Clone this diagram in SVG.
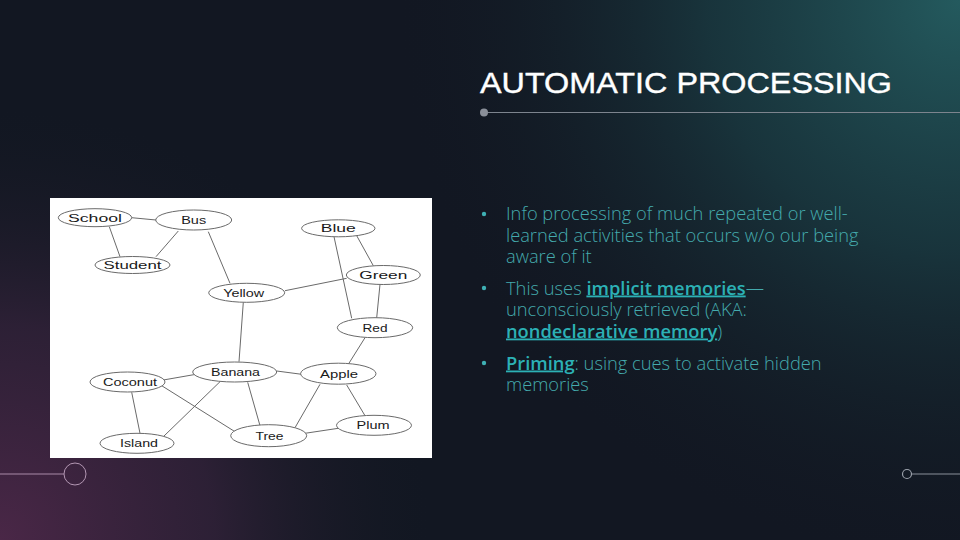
<svg xmlns="http://www.w3.org/2000/svg" width="960" height="540" viewBox="0 0 960 540">
<defs>
<radialGradient id="gTeal" cx="960" cy="0" r="560" gradientUnits="userSpaceOnUse">
<stop offset="0" stop-color="#245a5e"/>
<stop offset="0.45" stop-color="#1a3b42" stop-opacity="0.8"/>
<stop offset="1" stop-color="#131a24" stop-opacity="0"/>
</radialGradient>
<radialGradient id="gPurple" cx="0" cy="540" r="430" gradientUnits="userSpaceOnUse">
<stop offset="0" stop-color="#4a2747"/>
<stop offset="0.5" stop-color="#33223a" stop-opacity="0.8"/>
<stop offset="1" stop-color="#161a24" stop-opacity="0"/>
</radialGradient>
<style>
.nd ellipse{fill:#fff;stroke:#6a6a6a;stroke-width:1}
.nd text{font-family:"Liberation Sans",Arial,sans-serif;font-size:11.5px;fill:#1a1a1a;text-anchor:middle}
#edges line{stroke:#6a6a6a;stroke-width:1}
.b{font-family:"Open Sans","Noto Sans",sans-serif;font-size:18.3px;fill:#44aaad;font-weight:300}
.k{font-weight:600;fill:#2cb1b5;text-decoration:underline}
.dot{fill:#3fb0b4}
</style>
</defs>
<rect width="960" height="540" fill="#121722"/>
<rect width="960" height="540" fill="url(#gTeal)"/>
<rect width="960" height="540" fill="url(#gPurple)"/>

<text x="480" y="93" font-family="Liberation Sans,Arial,sans-serif" font-size="30" fill="#fff" stroke="#fff" stroke-width="0.4" textLength="412" lengthAdjust="spacingAndGlyphs">AUTOMATIC PROCESSING</text>
<line x1="484" y1="112.5" x2="960" y2="112.5" stroke="#7d848e" stroke-width="1.2"/>
<circle cx="484" cy="112.5" r="4" fill="#8a8f99"/>

<line x1="0" y1="474" x2="64" y2="474" stroke="#a98aa8" stroke-width="1"/>
<circle cx="75" cy="474" r="11" fill="none" stroke="#b397b3" stroke-width="1"/>
<line x1="912" y1="474" x2="960" y2="474" stroke="#8a8f99" stroke-width="1.2"/>
<circle cx="907" cy="474" r="4.5" fill="none" stroke="#9aa0aa" stroke-width="1.2"/>

<rect x="50" y="198" width="382" height="260" fill="#fff"/>

<g id="edges">
<line x1="131.7" y1="217.7" x2="156" y2="220"/>
<line x1="109.3" y1="226.7" x2="120" y2="256.7"/>
<line x1="178.3" y1="231" x2="156" y2="256.7"/>
<line x1="208.3" y1="231.7" x2="230" y2="283.3"/>
<line x1="334" y1="236.7" x2="351.7" y2="318.3"/>
<line x1="356.7" y1="235.7" x2="373.3" y2="265.7"/>
<line x1="285" y1="290.7" x2="346.7" y2="278.3"/>
<line x1="380" y1="284.3" x2="376.7" y2="317.7"/>
<line x1="243.3" y1="302.3" x2="239" y2="361.7"/>
<line x1="365" y1="337.7" x2="348.3" y2="364.3"/>
<line x1="163.3" y1="380" x2="201.7" y2="373.3"/>
<line x1="276.7" y1="371" x2="301.7" y2="374.3"/>
<line x1="247.7" y1="382.3" x2="260" y2="425.7"/>
<line x1="220" y1="381.7" x2="163.3" y2="436.7"/>
<line x1="161.7" y1="385.7" x2="235" y2="431.7"/>
<line x1="131.7" y1="392.3" x2="140" y2="433.3"/>
<line x1="320" y1="384.3" x2="295" y2="427.7"/>
<line x1="346.7" y1="385" x2="365" y2="415.7"/>
<line x1="305" y1="433.3" x2="338.3" y2="428.3"/>
</g>

<g id="school" class="nd"><ellipse cx="95" cy="217.7" rx="36.7" ry="9"/><text x="95" y="221.7" textLength="54" lengthAdjust="spacingAndGlyphs">School</text></g>
<g id="bus" class="nd"><ellipse cx="193.7" cy="220" rx="38" ry="10"/><text x="193.7" y="224" textLength="25" lengthAdjust="spacingAndGlyphs">Bus</text></g>
<g id="blue" class="nd"><ellipse cx="338.3" cy="228.3" rx="36.7" ry="8.5"/><text x="338.3" y="232.3" textLength="35" lengthAdjust="spacingAndGlyphs">Blue</text></g>
<g id="student" class="nd"><ellipse cx="132.5" cy="265" rx="37.5" ry="8.5"/><text x="132.5" y="269" textLength="58" lengthAdjust="spacingAndGlyphs">Student</text></g>
<g id="green" class="nd"><ellipse cx="383.3" cy="275" rx="37" ry="9.5"/><text x="383.3" y="279" textLength="48" lengthAdjust="spacingAndGlyphs">Green</text></g>
<g id="yellow" class="nd"><ellipse cx="246.7" cy="292.8" rx="38" ry="9.5"/><text x="243.7" y="296.8" textLength="41" lengthAdjust="spacingAndGlyphs">Yellow</text></g>
<g id="red" class="nd"><ellipse cx="375" cy="327.7" rx="37.7" ry="10"/><text x="375" y="331.7" textLength="25" lengthAdjust="spacingAndGlyphs">Red</text></g>
<g id="banana" class="nd"><ellipse cx="234.7" cy="372" rx="42" ry="10"/><text x="235.5" y="376" textLength="49" lengthAdjust="spacingAndGlyphs">Banana</text></g>
<g id="apple" class="nd"><ellipse cx="338.3" cy="373.7" rx="37.7" ry="10.5"/><text x="339" y="377.7" textLength="38" lengthAdjust="spacingAndGlyphs">Apple</text></g>
<g id="coconut" class="nd"><ellipse cx="127.5" cy="382" rx="37.5" ry="10"/><text x="130" y="386" textLength="54" lengthAdjust="spacingAndGlyphs">Coconut</text></g>
<g id="plum" class="nd"><ellipse cx="374" cy="425.3" rx="37.5" ry="10"/><text x="373" y="429.3" textLength="33" lengthAdjust="spacingAndGlyphs">Plum</text></g>
<g id="tree" class="nd"><ellipse cx="268.7" cy="435.7" rx="38" ry="11"/><text x="269.5" y="439.7" textLength="28" lengthAdjust="spacingAndGlyphs">Tree</text></g>
<g id="island" class="nd"><ellipse cx="137" cy="443.3" rx="37" ry="10"/><text x="139" y="447.3" textLength="38" lengthAdjust="spacingAndGlyphs">Island</text></g>

<g id="bullets">
<circle class="dot" cx="484" cy="214" r="2.2"/>
<text class="b" x="506" y="220">Info processing of much repeated or well-</text>
<text class="b" x="506" y="241.5">learned activities that occurs w/o our being</text>
<text class="b" x="506" y="263">aware of it</text>
<circle class="dot" cx="484" cy="288" r="2.2"/>
<text class="b" x="506" y="294.5">This uses <tspan class="k">implicit memories</tspan>—</text>
<text class="b" x="506" y="316">unconsciously retrieved (AKA:</text>
<text class="b" x="506" y="337.5"><tspan class="k">nondeclarative memory</tspan>)</text>
<circle class="dot" cx="484" cy="363" r="2.2"/>
<text class="b" x="506" y="369.5"><tspan class="k">Priming</tspan>: using cues to activate hidden</text>
<text class="b" x="506" y="391">memories</text>
</g>
</svg>
